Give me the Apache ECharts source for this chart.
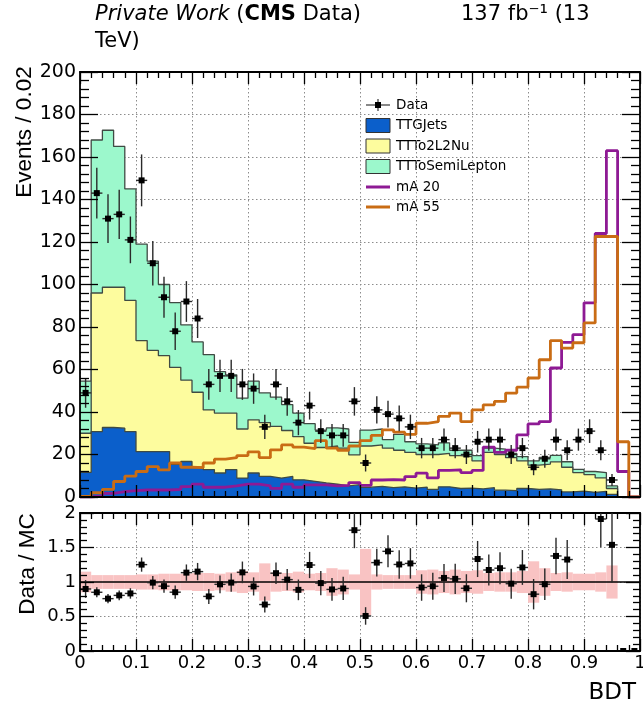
<!DOCTYPE html>
<html>
<head>
<meta charset="utf-8">
<title>BDT distribution</title>
<script src="https://cdn.jsdelivr.net/npm/echarts@6.0.0/dist/echarts.min.js"></script>
<style>
  html, body { margin: 0; padding: 0; background: #fff; }
  #chart { width: 643px; height: 709px; }
</style>
</head>
<body>
<div id="chart"></div>
<script>
// ---- binning: 50 bins of width 0.02 on BDT in [0, 1] ----
const nBins = 50;
const binWidth = 0.02;
const binLow = Array.from({ length: nBins }, (_, i) => i * binWidth);
const xMax = nBins * binWidth;

// ---- observed events per bin ----
const dataCounts = [49,143,131,133,121,149,110,94,78,92,84,53,57,57,53,51,33,53,45,35,
  43,31,29,29,45,16,41,39,37,33,23,23,27,23,20,26,27,27,20,23,14,18,27,22,27,31,22,8,0,0];

// ---- background expectations per bin ----
const ttgJets = [11.6,30.8,32.7,32.4,30.8,21.4,21.4,21.4,15.4,16.7,14.0,12.9,11.3,12.9,8.9,11.3,
  9.7,8.9,9.7,8.1,7.4,6.6,6.0,5.2,5.8,4.6,5.0,4.4,4.8,4.2,4.6,3.6,4.8,4.0,4.2,3.8,4.4,3.2,3.0,4.0,
  3.6,3.8,3.4,2.4,2.8,2.2,2.6,1.2,0,0];
const ttTo2L2Nu = [18.4,65.2,66.0,66.3,61.7,52.2,47.6,45.1,45.6,38.3,35.3,28.1,28.2,26.6,23.1,25.0,
  25.3,24.3,21.6,20.3,17.9,16.7,18.0,17.8,14.0,19.4,19.5,18.6,17.2,16.8,15.4,16.4,15.7,15.5,14.8,13.2,
  16.6,16.8,15.5,13.0,11.4,11.7,13.1,11.6,8.7,8.3,6.4,2.8,0,0];
const ttToSemiLepton = [24.5,72.0,73.9,66.3,52.5,45.4,42.0,33.5,30.5,26.0,23.7,26.0,19.5,18.0,14.5,18.2,
  14.0,13.8,12.2,11.1,9.2,8.2,8.5,9.0,5.9,7.5,7.5,4.0,7.5,5.0,5.0,4.5,5.0,2.5,3.0,2.5,2.0,2.5,2.0,2.0,
  2.0,3.1,3.1,2.6,1.5,1.5,2.5,1.2,0,0];

// ---- signal hypotheses per bin ----
const signalMA20 = [0,0.5,1.7,2.5,3.0,3.3,3.3,3.3,3.6,4.9,6.1,4.6,4.6,5.2,6.1,6.1,5.2,4.1,6.1,4.6,
  5.7,5.7,5.2,5.5,6.8,5.5,8.0,8.2,8.0,9.6,11.2,9.0,12.5,12.8,11.5,12.5,23.5,21.0,22.0,29.2,34.4,35.5,
  60.7,72.8,76.4,91.4,124.0,163.0,12.0,0];
const signalMA55 = [0.3,2.0,3.6,7.3,9.8,12.0,14.3,12.8,16.0,14.0,13.8,16.0,17.8,18.5,19.5,21.2,18.5,
  22.2,24.5,23.5,22.8,26.5,23.0,22.0,24.0,26.5,29.0,31.6,30.5,29.5,34.7,35.5,37.9,39.5,35.5,41.0,43.4,
  45.0,48.9,51.7,56.0,64.6,73.6,70.1,72.6,81.9,122.6,122.6,26.0,0];

// ---- relative MC statistical uncertainty per bin (ratio band) ----
const mcStatRelErr = [0.15,0.10,0.10,0.10,0.10,0.11,0.11,0.12,0.12,0.12,0.13,0.13,0.12,0.14,0.16,0.14,
  0.27,0.14,0.13,0.15,0.12,0.13,0.20,0.18,0.11,0.48,0.11,0.10,0.10,0.10,0.17,0.18,0.16,0.18,0.16,0.17,
  0.13,0.14,0.14,0.16,0.30,0.20,0.13,0.14,0.12,0.12,0.14,0.24,0,0];

// ---- styling ----
const COLORS = {
  ttg: '#0b5fcb',
  tt2l: '#fdfc9e',
  semi: '#9cf8cc',
  ma20: '#8e1a94',
  ma55: '#c96c14',
  band: '#f9c3c3',
  outline: '#3f4a43'
};
const FONT = 'DejaVu Sans';
const TITLE_FONT = 'Liberation Sans';

// histogram step points: one point at each lower bin edge, plus the upper edge of the last bin
function stepPoints(values) {
  const pts = values.map((v, i) => [binLow[i], v]);
  pts.push([xMax, values[values.length - 1]]);
  return pts;
}

// stacked tops of the background histograms (bottom to top: TTGJets, TTTo2L2Nu, TTToSemiLepton)
const stackTopTTG = ttgJets.slice();
const stackTopTT2L = ttgJets.map((v, i) => v + ttTo2L2Nu[i]);
const mcTotal = stackTopTT2L.map((v, i) => v + ttToSemiLepton[i]);
const binCenter = i => binLow[i] + binWidth / 2;

const dataPoints = dataCounts
  .map((n, i) => [binCenter(i), n, Math.sqrt(n)])
  .filter(p => p[1] > 0);

const ratioPoints = dataCounts
  .map((n, i) => mcTotal[i] > 0 ? [binCenter(i), n / mcTotal[i], Math.sqrt(n) / mcTotal[i]] : [binCenter(i), 0, 0])
  .filter(p => p[1] <= 2);

const bandRects = mcStatRelErr
  .map((e, i) => [binLow[i], e])
  .filter(p => p[1] > 0);

// ---- axes ----
const tickLine = { color: '#000', width: 1.3 };
function makeAxis(gridIndex, position, o) {
  return {
    type: 'value',
    gridIndex,
    position,
    z: o.front ? 10 : 0,
    min: o.min, max: o.max, interval: o.interval,
    axisLine: { show: true, onZero: false, lineStyle: { color: '#000', width: 1.8 } },
    axisTick: { show: true, inside: true, length: o.tick, lineStyle: tickLine },
    minorTick: { show: true, splitNumber: 5, length: o.minor, lineStyle: tickLine },
    splitLine: { show: !!o.grid, lineStyle: { color: '#8c8c8c', width: 1, type: [1.5, 2.5] } },
    minorSplitLine: { show: false },
    axisLabel: o.label
      ? Object.assign({ show: true, color: '#000', fontFamily: FONT, showMinLabel: true, showMaxLabel: true }, o.label)
      : { show: false }
  };
}

const xAxes = [
  makeAxis(0, 'bottom', { front: true, min: 0, max: xMax, interval: 0.1, tick: 12, minor: 6 }),
  makeAxis(0, 'top', { min: 0, max: xMax, interval: 0.1, tick: 12, minor: 6, grid: true }),
  makeAxis(1, 'bottom', { front: true, min: 0, max: xMax, interval: 0.1, tick: 12, minor: 6,
    label: { fontSize: 18, margin: 3 } }),
  makeAxis(1, 'top', { min: 0, max: xMax, interval: 0.1, tick: 12, minor: 6, grid: true })
];
const yAxes = [
  makeAxis(0, 'left', { front: true, min: 0, max: 200, interval: 20, tick: 18, minor: 9,
    label: { fontSize: 19, margin: 4 } }),
  makeAxis(0, 'right', { min: 0, max: 200, interval: 20, tick: 18, minor: 9, grid: true }),
  makeAxis(1, 'left', { front: true, min: 0, max: 2, interval: 0.5, tick: 14, minor: 7,
    label: { fontSize: 18, margin: 4 } }),
  makeAxis(1, 'right', { min: 0, max: 2, interval: 0.5, tick: 14, minor: 7, grid: true })
];

// ---- series ----
// each background is drawn as its stacked top filled down to zero; lower components sit on top (higher z)
function stackLayer(name, tops, color, z) {
  return {
    name, type: 'line', xAxisIndex: 0, yAxisIndex: 0,
    step: 'end', symbol: 'none', z,
    data: stepPoints(tops),
    lineStyle: { color: COLORS.outline, width: 1.3 },
    areaStyle: { color, opacity: 1, origin: 'start' },
    emphasis: { disabled: true },
    silent: true
  };
}
function signalSeries(name, values, color, z) {
  return {
    name, type: 'line', xAxisIndex: 0, yAxisIndex: 0,
    step: 'end', symbol: 'none', z,
    data: stepPoints(values),
    lineStyle: { color, width: 2.8 },
    emphasis: { disabled: true },
    silent: true
  };
}
function errorPointRender(params, api) {
  const x = api.value(0), y = api.value(1), e = api.value(2);
  const c = api.coord([x, y]);
  const l = api.coord([x - binWidth / 2, y]);
  const r = api.coord([x + binWidth / 2, y]);
  const t = api.coord([x, y + e]);
  const b = api.coord([x, y - e]);
  const ls = { stroke: '#2a2a2a', lineWidth: 1.4 };
  return {
    type: 'group',
    children: [
      { type: 'line', shape: { x1: l[0], y1: l[1], x2: r[0], y2: r[1] }, style: ls },
      { type: 'line', shape: { x1: t[0], y1: t[1], x2: b[0], y2: b[1] }, style: ls },
      { type: 'rect', shape: { x: c[0] - 3, y: c[1] - 3, width: 6, height: 6 }, style: { fill: '#000' } }
    ]
  };
}

const series = [
  stackLayer('TTToSemiLepton', mcTotal, COLORS.semi, 2),
  stackLayer('TTTo2L2Nu', stackTopTT2L, COLORS.tt2l, 3),
  stackLayer('TTGJets', stackTopTTG, COLORS.ttg, 4),
  signalSeries('mA 20', signalMA20, COLORS.ma20, 6),
  signalSeries('mA 55', signalMA55, COLORS.ma55, 7),
  {
    name: 'Data', type: 'custom', xAxisIndex: 0, yAxisIndex: 0, z: 10, clip: true,
    encode: { x: 0, y: 1 }, data: dataPoints, renderItem: errorPointRender, silent: true
  },
  {
    name: 'MC stat', type: 'custom', xAxisIndex: 2, yAxisIndex: 2, z: 2, clip: true,
    encode: { x: 0, y: 1 }, data: bandRects, silent: true,
    renderItem: (params, api) => {
      const x0 = api.value(0), e = api.value(1);
      const p1 = api.coord([x0, 1 + e]);
      const p2 = api.coord([x0 + binWidth, 1 - e]);
      return { type: 'rect', shape: { x: p1[0], y: p1[1], width: p2[0] - p1[0], height: p2[1] - p1[1] },
        style: { fill: COLORS.band } };
    },
    markLine: {
      silent: true, symbol: ['none', 'none'], z: 5, animation: false,
      label: { show: false },
      lineStyle: { color: '#000', width: 1.5, type: 'solid' },
      emphasis: { disabled: true },
      data: [{ yAxis: 1 }]
    }
  },
  {
    name: 'Data / MC', type: 'custom', xAxisIndex: 2, yAxisIndex: 2, z: 10, clip: true,
    encode: { x: 0, y: 1 }, data: ratioPoints, renderItem: errorPointRender, silent: true
  }
];

// ---- legend and labels drawn as graphic elements ----
const legendX = 366, legendW = 24, legendTextX = 396;
const legendItems = [
  { label: 'Data', kind: 'data', y: 105 },
  { label: 'TTGJets', kind: 'box', color: COLORS.ttg, y: 125.5 },
  { label: 'TTTo2L2Nu', kind: 'box', color: COLORS.tt2l, y: 146 },
  { label: 'TTToSemiLepton', kind: 'box', color: COLORS.semi, y: 166.5 },
  { label: 'mA 20', kind: 'line', color: COLORS.ma20, y: 187 },
  { label: 'mA 55', kind: 'line', color: COLORS.ma55, y: 207 }
];
const graphics = [];
legendItems.forEach(it => {
  const cx = legendX + legendW / 2;
  if (it.kind === 'data') {
    graphics.push({ type: 'line', shape: { x1: legendX, y1: it.y, x2: legendX + legendW, y2: it.y }, style: { stroke: '#555', lineWidth: 1.4 } });
    graphics.push({ type: 'line', shape: { x1: cx, y1: it.y - 6, x2: cx, y2: it.y + 6 }, style: { stroke: '#555', lineWidth: 1.4 } });
    graphics.push({ type: 'rect', shape: { x: cx - 3, y: it.y - 3, width: 6, height: 6 }, style: { fill: '#000' } });
  } else if (it.kind === 'box') {
    graphics.push({ type: 'rect', shape: { x: legendX, y: it.y - 7, width: legendW, height: 14 },
      style: { fill: it.color, stroke: '#333', lineWidth: 1 } });
  } else {
    graphics.push({ type: 'line', shape: { x1: legendX, y1: it.y, x2: legendX + legendW, y2: it.y },
      style: { stroke: it.color, lineWidth: 3 } });
  }
  graphics.push({ type: 'text', x: legendTextX, y: it.y,
    style: { text: it.label, fontSize: 13.5, fontFamily: FONT, fill: '#000',
      align: 'left', verticalAlign: 'middle', textAlign: 'left', textVerticalAlign: 'middle' } });
});

const titleStyle = { fontSize: 21, fontFamily: FONT, fill: '#000' };
graphics.push({
  type: 'text', x: 95, y: 15,
  style: {
    text: '{i|Private Work}{n| (}{b|CMS}{n| Data)}',
    fontSize: 21, fontFamily: FONT, fill: '#000',
    align: 'left', verticalAlign: 'middle', textAlign: 'left', textVerticalAlign: 'middle',
    rich: {
      i: { fontSize: 21, fontFamily: FONT, fontStyle: 'italic', fill: '#000' },
      b: { fontSize: 21, fontFamily: FONT, fontWeight: 'bold', fill: '#000' },
      n: { fontSize: 21, fontFamily: FONT, fill: '#000' }
    }
  }
});
graphics.push({ type: 'text', x: 95, y: 42,
  style: Object.assign({ text: 'TeV)', align: 'left', verticalAlign: 'middle', textAlign: 'left', textVerticalAlign: 'middle' }, titleStyle) });
graphics.push({ type: 'text', x: 461, y: 15,
  style: Object.assign({ text: '137 fb\u207B\u00B9 (13', align: 'left', verticalAlign: 'middle', textAlign: 'left', textVerticalAlign: 'middle' }, titleStyle) });

graphics.push({ type: 'text', x: 25, y: 132, rotation: Math.PI / 2,
  style: { text: 'Events / 0.02', fontSize: 22.5, fontFamily: TITLE_FONT, fill: '#000',
    align: 'center', verticalAlign: 'middle', textAlign: 'center', textVerticalAlign: 'middle' } });
graphics.push({ type: 'text', x: 28, y: 564, rotation: Math.PI / 2,
  style: { text: 'Data / MC', fontSize: 22.5, fontFamily: TITLE_FONT, fill: '#000',
    align: 'center', verticalAlign: 'middle', textAlign: 'center', textVerticalAlign: 'middle' } });
graphics.push({ type: 'text', x: 636, y: 693,
  style: { text: 'BDT', fontSize: 23, fontFamily: FONT, fill: '#000',
    align: 'right', verticalAlign: 'middle', textAlign: 'right', textVerticalAlign: 'middle' } });

const option = {
  animation: false,
  backgroundColor: '#fff',
  grid: [
    { left: 80, right: 3, top: 72, height: 425, containLabel: false, outerBoundsMode: 'none' },
    { left: 80, right: 3, top: 513, height: 138, containLabel: false, outerBoundsMode: 'none' }
  ],
  xAxis: xAxes,
  yAxis: yAxes,
  series,
  graphic: { elements: graphics }
};

const chart = echarts.init(document.getElementById('chart'), null, { renderer: 'canvas', width: 643, height: 709 });
chart.setOption(option);
</script>
</body>
</html>
